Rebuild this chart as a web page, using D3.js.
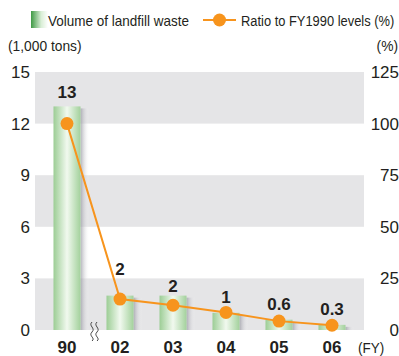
<!DOCTYPE html>
<html>
<head>
<meta charset="utf-8">
<script src="https://cdn.jsdelivr.net/npm/d3@7"></script>
<style>
  html, body { margin: 0; padding: 0; background: #fff; }
  svg { display: block; font-family: "Liberation Sans", Arial, Helvetica, sans-serif; }
</style>
</head>
<body>
<svg id="chart" width="399" height="356"></svg>
<script>
// Fiscal years shown on the x axis
const years = ["90", "02", "03", "04", "05", "06"];
// Volume of landfill waste (1,000 tons)
const volume = [13, 2, 2, 1, 0.6, 0.3];
// Ratio to FY1990 levels (%)
const ratio = [100, 15, 12, 8.5, 4.3, 2.3];
// Axis ticks
const leftTicks = [0, 3, 6, 9, 12, 15];
const rightTicks = [0, 25, 50, 75, 100, 125];

const svg = d3.select("#chart");
const plot = { left: 35, right: 364, top: 72, bottom: 330 };

const x = d3.scaleBand().domain(years).range([40.5, 358.5])
  .paddingInner(0.49).paddingOuter(0.245);
const yL = d3.scaleLinear().domain([0, 15]).range([plot.bottom, plot.top]);
const yR = d3.scaleLinear().domain([0, 125]).range([plot.bottom, plot.top]);

const defs = svg.append("defs");
const barGrad = defs.append("linearGradient").attr("id", "barGrad")
  .attr("x1", 0).attr("x2", 1).attr("y1", 0).attr("y2", 0);
[[0, "#9ccd95"], [0.5, "#f1f9ef"], [1, "#a3d19c"]].forEach(([o, c]) =>
  barGrad.append("stop").attr("offset", o).attr("stop-color", c));
const shadowGrad = defs.append("linearGradient").attr("id", "shadowGrad")
  .attr("x1", 0).attr("x2", 1).attr("y1", 0).attr("y2", 0);
[[0, "#9a9aa4", 0.75], [1, "#ffffff", 0]].forEach(([o, c, op]) =>
  shadowGrad.append("stop").attr("offset", o).attr("stop-color", c).attr("stop-opacity", op));
const legGrad = defs.append("linearGradient").attr("id", "legGrad")
  .attr("x1", 0).attr("x2", 1).attr("y1", 0).attr("y2", 0);
[[0, "#3f9a45"], [0.6, "#d9eed6"], [1, "#ffffff"]].forEach(([o, c]) =>
  legGrad.append("stop").attr("offset", o).attr("stop-color", c));

// Alternating grey bands behind the plot
const bands = [[0, 3], [6, 9], [12, 15]];
svg.append("g").selectAll("rect").data(bands).join("rect")
  .attr("x", plot.left).attr("width", plot.right - plot.left)
  .attr("y", d => yL(d[1])).attr("height", d => yL(d[0]) - yL(d[1]))
  .attr("fill", "#e5e5e7");

// Bar shadows and bars
const bw = x.bandwidth();
svg.append("g").selectAll("rect").data(years).join("rect")
  .attr("x", d => x(d) + bw).attr("width", 9)
  .attr("y", (d, i) => yL(volume[i]) + 2)
  .attr("height", (d, i) => yL(0) - yL(volume[i]) - 2)
  .attr("fill", "url(#shadowGrad)");
svg.append("g").selectAll("rect").data(years).join("rect")
  .attr("x", d => x(d)).attr("width", bw)
  .attr("y", (d, i) => yL(volume[i]))
  .attr("height", (d, i) => yL(0) - yL(volume[i]))
  .attr("fill", "url(#barGrad)");

// Value labels above bars (nudged where the ratio line passes)
const labelGap = [8, 21, 4, 10, 10, 10];
svg.append("g").selectAll("text").data(years).join("text")
  .attr("x", d => x(d) + bw / 2)
  .attr("y", (d, i) => yL(volume[i]) - labelGap[i])
  .attr("text-anchor", "middle")
  .attr("font-size", 17).attr("font-weight", "bold").attr("fill", "#231f20")
  .text((d, i) => volume[i]);

// Ratio line with markers
const cx = d => x(d) + bw / 2;
svg.append("path")
  .attr("d", d3.line().x((d, i) => cx(years[i])).y(d => yR(d))(ratio))
  .attr("fill", "none").attr("stroke", "#f7941d").attr("stroke-width", 2);
svg.append("g").selectAll("circle").data(ratio).join("circle")
  .attr("cx", (d, i) => cx(years[i])).attr("cy", d => yR(d))
  .attr("r", 6.5).attr("fill", "#f7941d");

// Axis break mark between FY1990 and FY2002
const brk = svg.append("g").attr("fill", "none").attr("stroke", "#333").attr("stroke-width", 0.9);
[0, 5].forEach(dx => {
  brk.append("path").attr("d",
    `M${92 + dx},${322} c-4,4 4,6 0,10 c-4,4 4,6 0,9`);
});

// Left axis
const axL = svg.append("g").attr("transform", `translate(${plot.left - 5},0)`)
  .call(d3.axisLeft(yL).tickValues(leftTicks).tickSize(0).tickPadding(0));
axL.select(".domain").remove();
axL.selectAll("text").attr("font-size", 17).attr("fill", "#231f20")
  .attr("font-family", "Liberation Sans, Arial, sans-serif");

// Right axis
const axR = svg.append("g").attr("transform", `translate(399,0)`)
  .call(d3.axisLeft(yR).tickValues(rightTicks).tickSize(0).tickPadding(0));
axR.select(".domain").remove();
axR.selectAll("text").attr("font-size", 17).attr("fill", "#231f20")
  .attr("font-family", "Liberation Sans, Arial, sans-serif");

// Bottom axis
const axB = svg.append("g").attr("transform", `translate(0,${plot.bottom})`)
  .call(d3.axisBottom(x).tickSize(0).tickPadding(11));
axB.select(".domain").remove();
axB.selectAll("text").attr("font-size", 17).attr("font-weight", "bold").attr("fill", "#231f20")
  .attr("font-family", "Liberation Sans, Arial, sans-serif");

// Horizontally condensed text helper
function narrowText(tx, ty, sx, str, anchor) {
  return svg.append("text")
    .attr("transform", `translate(${tx},${ty}) scale(${sx},1)`)
    .attr("text-anchor", anchor || "start")
    .attr("font-size", 15).attr("fill", "#231f20").text(str);
}

narrowText(358, 353, 0.9, "(FY)");

// Units
narrowText(8, 51, 0.92, "(1,000 tons)");
narrowText(398, 51, 0.92, "(%)", "end");

// Legend
svg.append("rect").attr("x", 31).attr("y", 11).attr("width", 17).attr("height", 17).attr("fill", "url(#legGrad)");
narrowText(48, 26, 0.9, "Volume of landfill waste");
svg.append("line").attr("x1", 203).attr("x2", 236).attr("y1", 20).attr("y2", 20)
  .attr("stroke", "#f7941d").attr("stroke-width", 2);
svg.append("circle").attr("cx", 219.5).attr("cy", 20).attr("r", 6.5).attr("fill", "#f7941d");
narrowText(241, 26, 0.86, "Ratio to FY1990 levels (%)");
</script>
</body>
</html>
